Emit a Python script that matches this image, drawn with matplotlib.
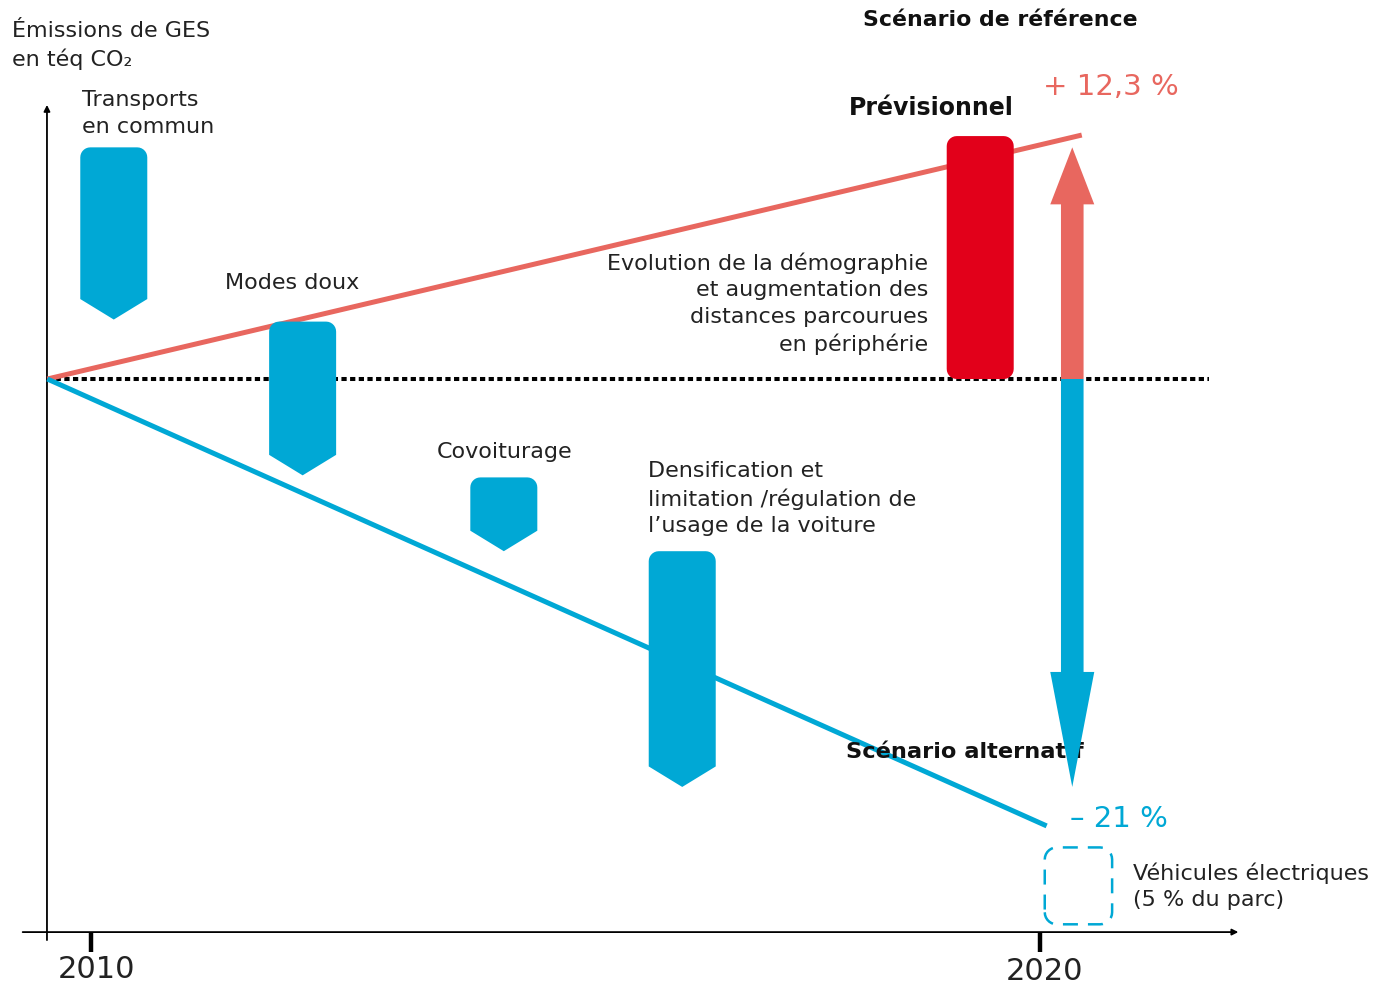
import matplotlib
matplotlib.use("Agg")
import matplotlib.pyplot as plt
import numpy as np
from matplotlib.patches import Polygon

# scenario lines (year, change vs 2010 in %-like index units)
line_years_ref = [2009.54, 2020.44]
line_vals_ref = [0.0, 11.9]
line_years_alt = [2009.54, 2020.07]
line_vals_alt = [0.0, -21.8]

# levers of the alternative scenario
lever_labels = ["Transports\nen commun", "Modes doux", "Covoiturage",
                "Densification et\nlimitation /régulation de\nl\u2019usage de la voiture"]
lever_years = [2010.24, 2012.23, 2014.35, 2016.23]
lever_tops = [11.3, 2.8, -4.8, -8.4]
lever_sizes = [8.4, 7.5, 3.6, 11.5]

# reference ("prévisionnel") bar
prev_year = 2019.37
prev_top = 11.85
prev_bottom = 0.0

# arrows at 2020
arrow_year = 2020.34
arrow_up = 11.3
arrow_down = -19.9

# electric vehicles box
ev_years = [2020.05, 2020.76]
ev_vals = [-26.6, -22.85]

tick_years = [2010, 2020]

BLUE = "#00A8D5"
SALMON = "#E8675F"
RED = "#E2001A"

W, H = 1381, 986
XPX = 94.9   # px per year
YPX = 20.5   # px per unit

fig = plt.figure(figsize=(W / 100, H / 100), dpi=100)
ax = fig.add_axes([0, 0, 1, 1])
ax.set_xlim(2010 - 91 / XPX, 2010 + (W - 91) / XPX)
ax.set_ylim((379 - H) / YPX, 379 / YPX)
ax.axis("off")


def put(x, y, s, **kw):
    ax.text(x / W, 1 - y / H, s, transform=ax.transAxes, **kw)


def block(xc, top, bottom, width, tip=0.0, r_px=10, round_bottom=False, n=8):
    rx, ry = r_px / XPX, r_px / YPX
    xl, xr = xc - width / 2, xc + width / 2
    t = np.linspace(0, np.pi / 2, n)
    pts = []
    if round_bottom:
        for a in t:  # bottom left corner
            pts.append((xl + rx - rx * np.cos(a), bottom + ry - ry * np.sin(a)))
        for a in t:  # bottom right
            pts.append((xr - rx + rx * np.sin(a), bottom + ry - ry * np.cos(a)))
    else:
        pts.append((xl, bottom))
        if tip:
            pts.append((xc, bottom - tip))
        pts.append((xr, bottom))
    for a in t:  # top right
        pts.append((xr - rx + rx * np.cos(a), top - ry + ry * np.sin(a)))
    for a in t:  # top left
        pts.append((xl + rx - rx * np.sin(a), top - ry + ry * np.cos(a)))
    return np.array(pts)


lever_w = 67 / XPX
tip_h = 1.0

# axes
ax.annotate("", xy=(2009.536, 13.37), xytext=(2009.536, -27.37),
            arrowprops=dict(arrowstyle="-|>", color="black", lw=1.3,
                            mutation_scale=9, shrinkA=0, shrinkB=0))
ax.annotate("", xy=(2022.09, -26.98), xytext=(2009.28, -26.98),
            arrowprops=dict(arrowstyle="-|>", color="black", lw=1.3,
                            mutation_scale=9, shrinkA=0, shrinkB=0))
for ty in tick_years:
    ax.plot([ty, ty], [-26.98, -27.95], color="black", lw=3.2,
            solid_capstyle="butt")
put(96, 970, "2010", fontsize=22, ha="center", va="center", color="#222222")
put(1045, 972, "2020", fontsize=22, ha="center", va="center", color="#222222")

# baseline
ax.plot([2009.536, 2021.78], [0, 0], color="black", lw=2.9,
        linestyle=(0, (1.3, 0.85)), dash_capstyle="butt", zorder=2)

# scenario lines
ax.plot(line_years_ref, line_vals_ref, color=SALMON, lw=3.6, zorder=3,
        solid_capstyle="butt")
ax.plot(line_years_alt, line_vals_alt, color=BLUE, lw=3.6, zorder=3,
        solid_capstyle="butt")

# levers
for yr, top, size in zip(lever_years, lever_tops, lever_sizes):
    pts = block(yr, top, top - size + tip_h, lever_w, tip=tip_h)
    ax.add_patch(Polygon(pts, closed=True, facecolor=BLUE, edgecolor="none",
                         zorder=4))

# prévisionnel bar
pts = block(prev_year, prev_top, prev_bottom, lever_w, round_bottom=True)
ax.add_patch(Polygon(pts, closed=True, facecolor=RED, edgecolor="none",
                     zorder=4))

# arrows
ax.arrow(arrow_year, 0, 0, arrow_up, width=22.6 / XPX, head_width=44 / XPX,
         head_length=57 / YPX, length_includes_head=True, color=SALMON,
         lw=0, zorder=6)
ax.arrow(arrow_year, 0, 0, arrow_down, width=22.6 / XPX, head_width=44 / XPX,
         head_length=115 / YPX, length_includes_head=True, color=BLUE,
         lw=0, zorder=6)

# electric vehicles box
pts = block(np.mean(ev_years), ev_vals[1], ev_vals[0], ev_years[1] - ev_years[0],
            r_px=12, round_bottom=True)
ax.add_patch(Polygon(pts, closed=True, fill=False, edgecolor=BLUE, lw=1.8,
                     linestyle=(0, (6, 4)), zorder=4))

# texts
body = dict(fontsize=16, color="#222222")
LS = 1.41
put(12, 21, "Émissions de GES\nen téq CO\u2082", va="top", ha="left",
    linespacing=LS, **body)
put(82, 90, lever_labels[0], va="top", ha="left", linespacing=LS, **body)
put(225, 283, lever_labels[1], va="center", ha="left", **body)
put(437, 452, lever_labels[2], va="center", ha="left", **body)
put(648, 461, lever_labels[3], va="top", ha="left", linespacing=LS, **body)
put(928, 252, "Evolution de la démographie\net augmentation des\n"
    "distances parcourues\nen périphérie", va="top", ha="right",
    multialignment="right", linespacing=LS, **body)
put(1133, 862, "Véhicules électriques\n(5 % du parc)", va="top", ha="left",
    linespacing=LS, **body)

put(1000, 20, "Scénario de référence", fontsize=15.8, fontweight="bold",
    ha="center", va="center", color="#111111")
put(931, 108, "Prévisionnel", fontsize=17, fontweight="bold",
    ha="center", va="center", color="#111111")
put(965, 752, "Scénario alternatif", fontsize=16.2, fontweight="bold",
    ha="center", va="center", color="#111111", zorder=5)
put(1111, 87, "+ 12,3 %", fontsize=21, ha="center", va="center",
    color=SALMON)
put(1119, 819, "\u2013 21 %", fontsize=21, ha="center", va="center", color=BLUE)

fig.savefig("out.png", dpi=100)
